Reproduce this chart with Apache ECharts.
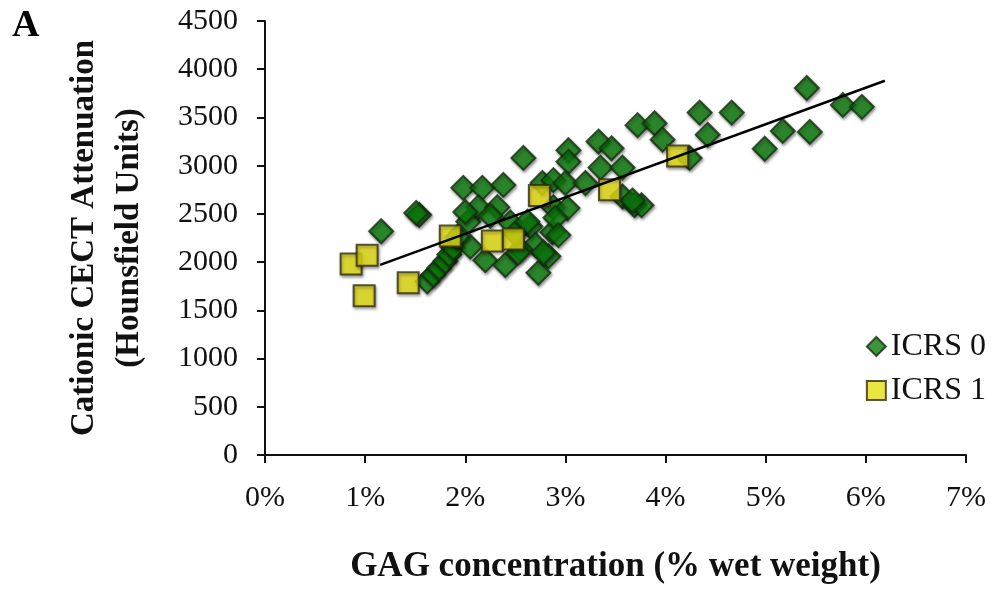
<!DOCTYPE html>
<html>
<head>
<meta charset="utf-8">
<script src="https://cdn.jsdelivr.net/npm/echarts@6/dist/echarts.min.js"></script>
<style>
html,body{margin:0;padding:0;background:#fff;}
#chart{width:997px;height:590px;}
</style>
</head>
<body>
<div id="chart"></div>
<script>
// Tick labels
var xTicks = [0, 1, 2, 3, 4, 5, 6, 7];
var yTicks = [0, 500, 1000, 1500, 2000, 2500, 3000, 3500, 4000, 4500];

// ICRS 0 (green diamonds): GAG % wet weight, attenuation HU
var icrs0X = [1.16, 1.54, 1.51, 1.62, 1.68, 1.74, 1.80, 1.84, 1.88, 1.98, 2.17, 2.38, 2.03, 2.13, 2.32, 2.45,
  2.05, 2.20, 2.40, 2.65, 2.70, 2.83, 2.73, 1.92, 2.55, 2.87, 2.88, 2.58, 3.03, 3.03, 2.77, 2.88, 3.00, 3.20,
  3.02, 2.90, 2.93, 2.78, 2.53, 3.33, 3.46, 3.35, 3.57, 3.57, 3.69, 3.72, 3.89, 3.97, 4.24, 4.34, 4.42, 3.76,
  3.67, 4.66, 4.99, 5.17, 5.41, 5.44, 5.77, 5.96, 2.50, 2.62, 2.00, 2.25];
var icrs0Y = [2320, 2490, 2510, 1800, 1870, 1940, 2010, 2080, 2150, 2770, 2770, 2800, 2420, 2570, 2570, 2410,
  2160, 2020, 1970, 2370, 2180, 2060, 1890, 2260, 2130, 2310, 2570, 3080, 3160, 3040, 2820, 2850, 2820, 2820,
  2560, 2460, 2280, 2100, 2100, 3250, 3180, 2980, 2980, 2680, 2590, 3420, 3440, 3270, 3080, 3550, 3320, 2590,
  2640, 3550, 3175, 3360, 3805, 3350, 3630, 3610, 2300, 2420, 2520, 2480];

// ICRS 1 (yellow squares)
var icrs1X = [0.86, 1.02, 0.99, 1.43, 1.85, 2.27, 2.48, 2.74, 3.44, 4.12];
var icrs1Y = [1980, 2070, 1650, 1785, 2270, 2220, 2240, 2690, 2750, 3100];

// Trend line endpoints
var trendX = [1.15, 6.19];
var trendY = [1971, 3880];

var seriesNames = ['ICRS 0', 'ICRS 1'];

function zip(a, b) { return a.map(function (v, i) { return [v, b[i]]; }); }

var serif = '"Liberation Serif", "Times New Roman", serif';
var chart = echarts.init(document.getElementById('chart'));
var shadow = { shadowBlur: 3, shadowColor: 'rgba(0,0,0,0.45)', shadowOffsetX: 1, shadowOffsetY: 2 };

chart.setOption({
  backgroundColor: '#fff',
  animation: false,
  grid: { left: 265, right: 31, top: 21, bottom: 135, containLabel: false },
  graphic: [{
    type: 'text', left: 12, top: 7,
    style: { text: 'A', font: 'bold 38px ' + serif, fill: '#000' }
  }],
  legend: {
    orient: 'vertical', right: 6, top: 325, itemGap: 11,
    itemWidth: 19, itemHeight: 19,
    data: [{ name: seriesNames[0], icon: 'diamond' }, { name: seriesNames[1], icon: 'rect' }],
    textStyle: { fontFamily: serif, fontSize: 32, color: '#111', lineHeight: 33 }
  },
  xAxis: {
    type: 'value', min: xTicks[0], max: xTicks[xTicks.length - 1], interval: 1,
    name: 'GAG concentration (% wet weight)', nameLocation: 'middle', nameGap: 94,
    nameTextStyle: { fontFamily: serif, fontSize: 35, fontWeight: 'bold', color: '#111' },
    axisLine: { show: true, lineStyle: { color: '#111', width: 2 } },
    axisTick: { show: true, length: 8, lineStyle: { color: '#111', width: 2 } },
    axisLabel: { formatter: '{value}%', fontFamily: serif, fontSize: 30, color: '#111', margin: 28 },
    splitLine: { show: false }
  },
  yAxis: {
    type: 'value', min: yTicks[0], max: yTicks[yTicks.length - 1], interval: 500,
    name: 'Cationic CECT Attenuation\n(Hounsfield Units)', nameLocation: 'middle', nameGap: 113,
    nameTextStyle: { fontFamily: serif, fontSize: 33, fontWeight: 'bold', color: '#111', lineHeight: 45 },
    axisLine: { show: true, lineStyle: { color: '#111', width: 2 } },
    axisTick: { show: true, length: 8, lineStyle: { color: '#111', width: 2 } },
    axisLabel: { formatter: function (v) { return String(v); }, fontFamily: serif, fontSize: 30, color: '#111', margin: 27 },
    splitLine: { show: false }
  },
  series: [
    {
      name: seriesNames[0], type: 'scatter', symbol: 'diamond', symbolSize: 24, z: 2,
      itemStyle: Object.assign({ color: '#0b7d0b', borderColor: '#14300f', borderWidth: 2 }, shadow),
      data: zip(icrs0X, icrs0Y)
    },
    {
      name: seriesNames[1], type: 'scatter', symbol: 'rect', symbolSize: 21, z: 3,
      itemStyle: Object.assign({ color: '#e6df12', borderColor: '#2f2a0e', borderWidth: 2 }, shadow),
      data: zip(icrs1X, icrs1Y)
    },
    {
      name: 'trend', type: 'line', symbol: 'none', z: 4, silent: true,
      lineStyle: { color: '#000', width: 2.5 },
      data: zip(trendX, trendY)
    }
  ]
});
</script>
</body>
</html>
